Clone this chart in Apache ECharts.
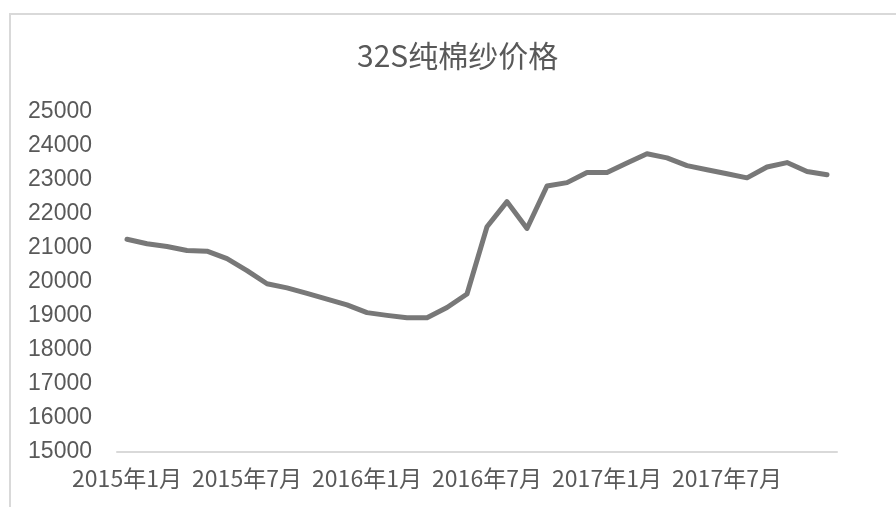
<!DOCTYPE html>
<html>
<head>
<meta charset="utf-8">
<script src="https://cdn.jsdelivr.net/npm/echarts@6/dist/echarts.min.js"></script>
<style>html,body{margin:0;padding:0;background:#fff;}#c{width:896px;height:507px;}</style>
</head>
<body>
<div id="c"></div>
<script>
var titleText = '32S纯棉纱价格';
var years = [2015, 2016, 2017];
var months = [1,2,3,4,5,6,7,8,9,10,11,12];
var categories = [];
years.forEach(function(y){ months.forEach(function(m){ categories.push(y + '年' + m + '月'); }); });
var prices = [21250, 21120, 21040, 20920, 20900, 20680, 20330, 19940, 19820, 19660, 19490, 19320,
              19090, 19010, 18940, 18940, 19240, 19640, 21620, 22360, 21570, 22820, 22920, 23220,
              23220, 23500, 23770, 23650, 23420, 23300, 23180, 23060, 23380, 23510, 23250, 23150];
var yMin = 15000, yMax = 25000, yStep = 1000;

var chart = echarts.init(document.getElementById('c'), null, {renderer: 'canvas'});
chart.setOption({
  animation: false,
  backgroundColor: '#ffffff',
  title: {
    text: titleText,
    left: 352, top: 36,
    textStyle: {fontFamily: '"Noto Sans CJK SC", sans-serif', fontSize: 30, fontWeight: 'normal', color: '#595959'}
  },
  graphic: [{
    type: 'rect', silent: true,
    shape: {x: 10, y: 14, width: 1000, height: 600},
    style: {fill: 'none', stroke: '#d9d9d9', lineWidth: 2}
  }],
  grid: {left: 117, right: 59, top: 112, bottom: 55.5, containLabel: false},
  xAxis: {
    type: 'category',
    data: categories,
    boundaryGap: true,
    axisLine: {lineStyle: {color: '#d9d9d9', width: 2}},
    axisTick: {show: false},
    axisLabel: {
      interval: 5,
      margin: 15,
      color: '#595959',
      fontSize: 23,
      fontFamily: '"Noto Sans CJK SC", sans-serif'
    },
    splitLine: {show: false}
  },
  yAxis: {
    type: 'value',
    min: yMin, max: yMax, interval: yStep,
    axisLine: {show: false},
    axisTick: {show: false},
    splitLine: {show: false},
    axisLabel: {
      margin: 25,
      color: '#595959',
      fontSize: 23,
      fontFamily: '"Liberation Sans", Arial, sans-serif',
      formatter: function (v) { return String(v); }
    }
  },
  series: [{
    type: 'line',
    data: prices,
    symbol: 'none',
    lineStyle: {color: '#787878', width: 5, join: 'round', cap: 'round'},
    itemStyle: {color: '#787878'}
  }]
});
</script>
</body>
</html>
